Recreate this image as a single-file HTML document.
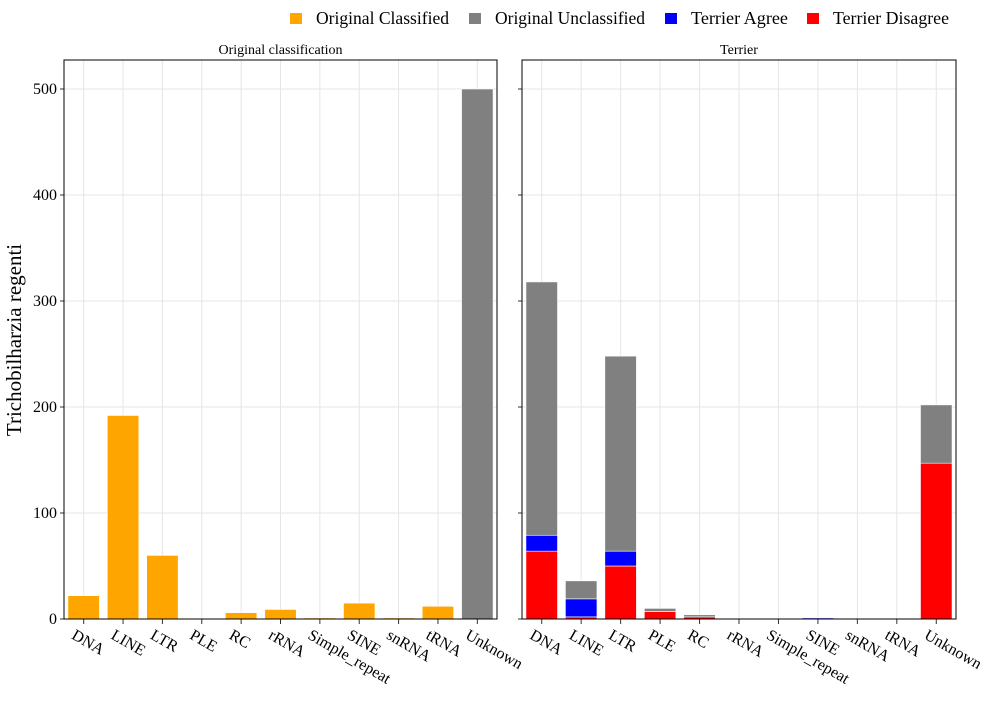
<!DOCTYPE html>
<html><head><meta charset="utf-8"><style>
body{margin:0;background:#fff;}
svg{font-family:"Liberation Serif",serif;}
</style></head><body>
<svg id="c" width="1000" height="700" xmlns="http://www.w3.org/2000/svg"></svg>
<script>
const categories=["DNA","LINE","LTR","PLE","RC","rRNA","Simple_repeat","SINE","snRNA","tRNA","Unknown"];
const origClassified=[22,192,60,0,6,9,1,15,1,12,0];
const origUnclassified=[0,0,0,0,0,0,0,0,0,0,500];
const terrierDisagree=[64,2,50,7,2,0,0,0,0,0,147];
const terrierAgree=[15,17,14,0,0,0,0,1,0,0,0];
const terrierUnclassified=[239,17,184,3,2,0,0,0,0,0,55];
const yTicks=[0,100,200,300,400,500];
const NS="http://www.w3.org/2000/svg";
const svg=document.getElementById('c');
function mk(t,a,p){const e=document.createElementNS(NS,t);for(const k in a)e.setAttribute(k,a[k]);(p||svg).appendChild(e);return e;}
const y0=619,yTop=60,ppu=1.06;
function ys(v){return y0-v*ppu;}
const panels=[{x:64,w:433,title:"Original classification",n:"original"},{x:522,w:434,title:"Terrier",n:"terrier"}];
function xs(p,i){const b=p.w/categories.length;return p.x+b*(i+0.5);}
panels.forEach((p,pi)=>{
  const g=mk('g',{});
  
  
  yTicks.forEach(t=>{const l=mk('line',{x1:p.x,x2:p.x+p.w,y1:ys(t),y2:ys(t),stroke:'#e5e5e5','stroke-width':1},g);
    
    const tk=mk('line',{x1:p.x-4,x2:p.x,y1:ys(t),y2:ys(t),stroke:'#333'},g);
    
    if(pi==0){const tx=mk('text',{x:p.x-7,y:ys(t)+5,'text-anchor':'end','font-size':16,fill:'#000'},g);tx.textContent=t;
      }
  });
  categories.forEach((c,i)=>{const x=xs(p,i);
    const l=mk('line',{x1:x,x2:x,y1:yTop,y2:y0,stroke:'#e5e5e5'},g);
    
    const tk=mk('line',{x1:x,x2:x,y1:y0,y2:y0+5,stroke:'#333'},g);
    
    const tx=mk('text',{x:x-13,y:y0+19,'font-size':16,transform:`rotate(30 ${x-13} ${y0+19})`,fill:'#000'},g);tx.textContent=c;
    
  });
  const b=p.w/categories.length,bw=b*0.8;
  const stacks=pi==0?[[origClassified,'#FFA500','original-classified'],[origUnclassified,'#808080','original-unclassified']]
    :[[terrierDisagree,'#FF0000','terrier-disagree'],[terrierAgree,'#0000FF','terrier-agree'],[terrierUnclassified,'#808080','terrier-unclassified']];
  categories.forEach((c,i)=>{let base=0;
    stacks.forEach(s=>{const v=s[0][i];if(v>0){
      const r=mk('rect',{x:xs(p,i)-bw/2,y:ys(base+v),width:bw,height:v*ppu,fill:s[1],stroke:'#fff','stroke-width':0.6},g);
      }
      base+=v;});
  });
  const fr=mk('rect',{x:p.x,y:yTop,width:p.w,height:y0-yTop,fill:'none',stroke:'#000','stroke-width':1},g);
  
  const tt=mk('text',{x:p.x+p.w/2,y:54,'text-anchor':'middle','font-size':14,fill:'#000'},g);tt.textContent=p.title;
  
});
const yt=mk('text',{x:21,y:340,'text-anchor':'middle','font-size':21,transform:'rotate(-90 21 340)',fill:'#000'});
yt.textContent='Trichobilharzia regenti';

const legend=[["Original Classified","#FFA500",290,133],["Original Unclassified","#808080",469,150],["Terrier Agree","#0000FF",665,97],["Terrier Disagree","#FF0000",807,116]];
legend.forEach(l=>{const g=mk('g',{});
  
  mk('rect',{x:l[2],y:13,width:12,height:11,fill:l[1]},g);
  const t=mk('text',{x:l[2]+26,y:24,'font-size':17.5,fill:'#000',textLength:l[3],lengthAdjust:'spacingAndGlyphs'},g);t.textContent=l[0];});
</script>
</body></html>
